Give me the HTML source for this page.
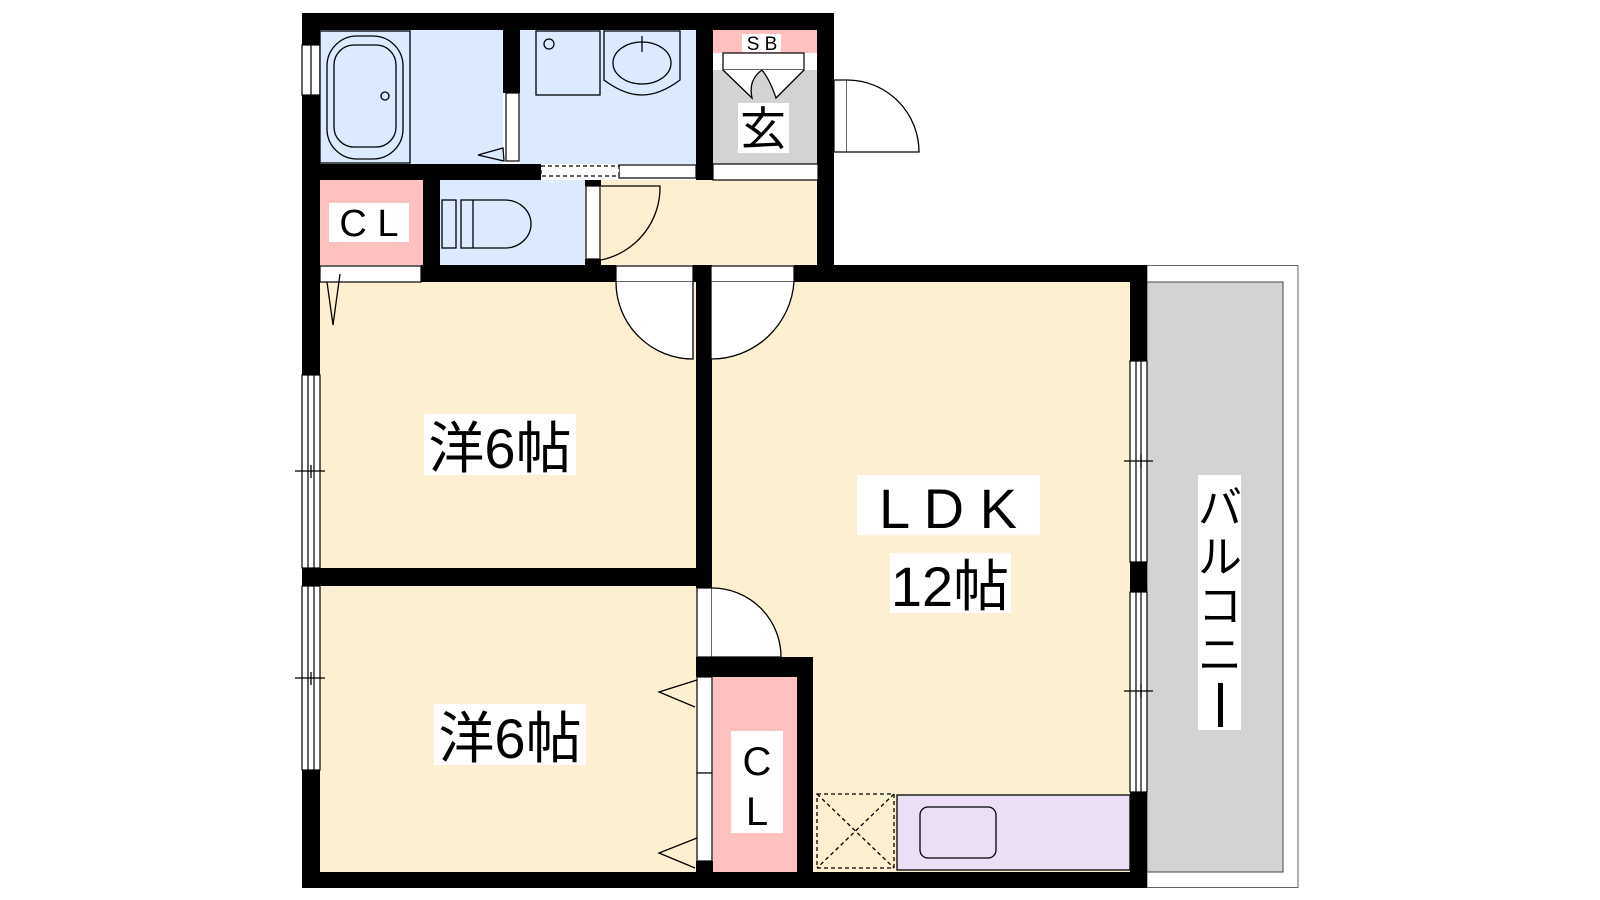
<!DOCTYPE html>
<html><head><meta charset="utf-8"><style>
html,body{margin:0;padding:0;background:#fff;}
svg{display:block}
text{font-family:"Liberation Sans","Noto Sans CJK JP",sans-serif;}
</style></head><body>
<svg width="1600" height="900" viewBox="0 0 1600 900" xmlns="http://www.w3.org/2000/svg">
<rect x="320" y="30" width="183" height="134" fill="#dbeaff"/>
<rect x="520" y="30" width="176" height="134" fill="#dbeaff"/>
<rect x="713" y="30" width="105" height="23" fill="#ffc0c0"/>
<rect x="713" y="70" width="105" height="94" fill="#d3d3d3"/>
<rect x="320" y="180" width="103" height="85" fill="#ffc0c0"/>
<rect x="440" y="180" width="145" height="85" fill="#dbeaff"/>
<rect x="601" y="180" width="217" height="85" fill="#fdf0d0"/>
<rect x="320" y="282" width="377" height="590" fill="#fdf0d0"/>
<rect x="712" y="282" width="418" height="590" fill="#fdf0d0"/>
<rect x="713" y="677" width="84" height="195" fill="#ffc0c0"/>
<rect x="1147" y="265.5" width="151" height="622" fill="#fff" stroke="#666" stroke-width="1"/>
<rect x="1147" y="282" width="136" height="590" fill="#d3d3d3" stroke="#444" stroke-width="1"/>
<g fill="#000">
<rect x="302" y="13" width="532" height="17"/>
<rect x="302" y="13" width="18" height="362"/>
<rect x="302" y="568" width="18" height="320"/>
<rect x="302" y="770" width="18" height="118"/>
<rect x="817" y="13" width="17" height="269"/>
<rect x="503" y="30" width="17" height="63"/>
<rect x="696" y="13" width="17" height="167"/>
<rect x="320" y="164" width="221" height="16"/>
<rect x="423" y="180" width="17" height="102"/>
<rect x="585" y="180" width="16" height="6"/>
<rect x="585" y="259" width="16" height="23"/>
<rect x="302" y="265" width="18" height="17"/>
<rect x="421" y="265" width="195" height="17"/>
<rect x="693" y="265" width="18" height="17"/>
<rect x="794" y="265" width="353" height="17"/>
<rect x="696" y="265" width="16" height="323"/>
<rect x="302" y="568" width="410" height="18"/>
<rect x="696" y="657" width="117" height="20"/>
<rect x="797" y="657" width="16" height="215"/>
<rect x="696" y="861" width="17" height="11"/>
<rect x="302" y="872" width="845" height="16"/>
<rect x="1130" y="265" width="17" height="96"/>
<rect x="1130" y="562" width="17" height="30"/>
<rect x="1130" y="792" width="17" height="96"/>
</g>
<g fill="#fff" stroke="#000" stroke-width="1.2">
<rect x="302" y="45" width="18" height="50"/><line x1="311" y1="45" x2="311" y2="95"/>
<rect x="302" y="375" width="18" height="193"/><line x1="308" y1="375" x2="308" y2="568"/><line x1="314" y1="375" x2="314" y2="568"/>
<rect x="302" y="586" width="18" height="184"/><line x1="308" y1="586" x2="308" y2="770"/><line x1="314" y1="586" x2="314" y2="770"/>
<rect x="1130" y="361" width="17" height="201"/><line x1="1136" y1="361" x2="1136" y2="562"/><line x1="1141" y1="361" x2="1141" y2="562"/>
<rect x="1130" y="592" width="17" height="200"/><line x1="1136" y1="592" x2="1136" y2="792"/><line x1="1141" y1="592" x2="1141" y2="792"/>
<rect x="506" y="93" width="13" height="68"/>
<rect x="586" y="186" width="14" height="73"/>
<rect x="320" y="266" width="101" height="16"/>
<rect x="616" y="266" width="77" height="16"/>
<rect x="711" y="266" width="83" height="16"/>
<rect x="697" y="588" width="15" height="69"/>
<rect x="697" y="677" width="15" height="96"/>
<rect x="697" y="773" width="15" height="88"/>
<rect x="723" y="53" width="81" height="17"/>
<rect x="713" y="164" width="105" height="16"/>
<rect x="834" y="80" width="13" height="72"/>
<rect x="619" y="165" width="77" height="13"/>
<rect x="541" y="166" width="78" height="10" stroke-dasharray="4 3"/>
</g>
<g fill="none" stroke="#000" stroke-width="1.3">
<line x1="295" y1="471" x2="325" y2="471"/><line x1="311" y1="465" x2="311" y2="478"/>
<line x1="295" y1="678" x2="325" y2="678"/><line x1="311" y1="672" x2="311" y2="685"/>
<line x1="1124" y1="461" x2="1153" y2="461"/><line x1="1141" y1="454" x2="1141" y2="468"/>
<line x1="1124" y1="691" x2="1153" y2="691"/><line x1="1141" y1="684" x2="1141" y2="698"/>
<path d="M847 80 A72 72 0 0 1 919 152 L847 152" fill="#fff"/>
<path d="M601 186 L660 186 A74 74 0 0 1 601 260"/>
<path d="M616 282 A77 77 0 0 0 693 359 L693 282" fill="#fff"/>
<path d="M794 282 A83 83 0 0 1 711 359 L711 282" fill="#fff"/>
<path d="M712 588 A69 69 0 0 1 781 657 L712 657" fill="#fff"/>
<polyline points="478,155 503,148 504,161 478,155"/>
<polyline points="327,282 333,325 340,274"/>
<polyline points="697,680 659,692 695,707"/>
<polyline points="697,838 659,853 695,868"/>
<path d="M723 70 L752 98 Q748 80 762 70 Q770 80 776 98 L804 70" fill="#fff"/>
<rect x="320" y="31" width="90" height="132" fill="#dbeaff"/>
<rect x="327" y="36" width="76" height="123" rx="30"/>
<rect x="334" y="45" width="62" height="102" rx="20"/>
<circle cx="385" cy="96" r="4"/>
<rect x="536" y="31" width="64" height="64"/>
<circle cx="549" cy="44" r="5"/>
<path d="M604 31 L680 31 L680 80 Q660 95 642 95 Q624 95 604 80 Z"/>
<ellipse cx="642" cy="63" rx="29" ry="21"/>
<line x1="642" y1="36" x2="642" y2="52"/>
<rect x="442" y="200" width="14" height="48"/>
<rect x="461" y="200" width="12" height="48"/>
<path d="M473 200 L505 200 A26 24 0 0 1 505 248 L473 248"/>
<rect x="817" y="794" width="77" height="74" stroke-dasharray="4 3"/>
<path d="M817 794 L894 868 M894 794 L817 868" stroke-dasharray="4 3"/>
<rect x="897" y="795" width="233" height="75" fill="#ecdff5"/>
<rect x="920" y="807" width="76" height="51" rx="8"/>
</g>
<g fill="#fff">
<rect x="742" y="34" width="39" height="18"/>
<rect x="738" y="103" width="51" height="50"/>
<rect x="329" y="203" width="80" height="39"/>
<rect x="424" y="414" width="152" height="61"/>
<rect x="434" y="704" width="152" height="61"/>
<rect x="857" y="475" width="183" height="60"/>
<rect x="890" y="553" width="121" height="60"/>
<rect x="1198" y="475" width="43" height="255"/>
<rect x="731" y="731" width="52" height="102"/>
</g>
<g fill="#000">
<text x="762" y="50" font-size="19" text-anchor="middle">S B</text>
<text x="763" y="145" font-size="46" text-anchor="middle">玄</text>
<text x="369" y="236" font-size="38" text-anchor="middle">C L</text>
<text x="500" y="468" font-size="56" text-anchor="middle">洋6帖</text>
<text x="510" y="758" font-size="56" text-anchor="middle">洋6帖</text>
<text x="948" y="528" font-size="56" text-anchor="middle">L D K</text>
<text x="950" y="606" font-size="56" text-anchor="middle">12帖</text>
<text x="757" y="775" font-size="40" text-anchor="middle">C</text>
<text x="757" y="825" font-size="40" text-anchor="middle">L</text>
<text x="1220" y="523" font-size="44" text-anchor="middle">バ</text>
<text x="1220" y="572" font-size="44" text-anchor="middle">ル</text>
<text x="1220" y="621" font-size="44" text-anchor="middle">コ</text>
<text x="1220" y="670" font-size="44" text-anchor="middle">ニ</text>
<rect x="1218" y="683" width="5" height="44"/>
</g>
</svg>
</body></html>
